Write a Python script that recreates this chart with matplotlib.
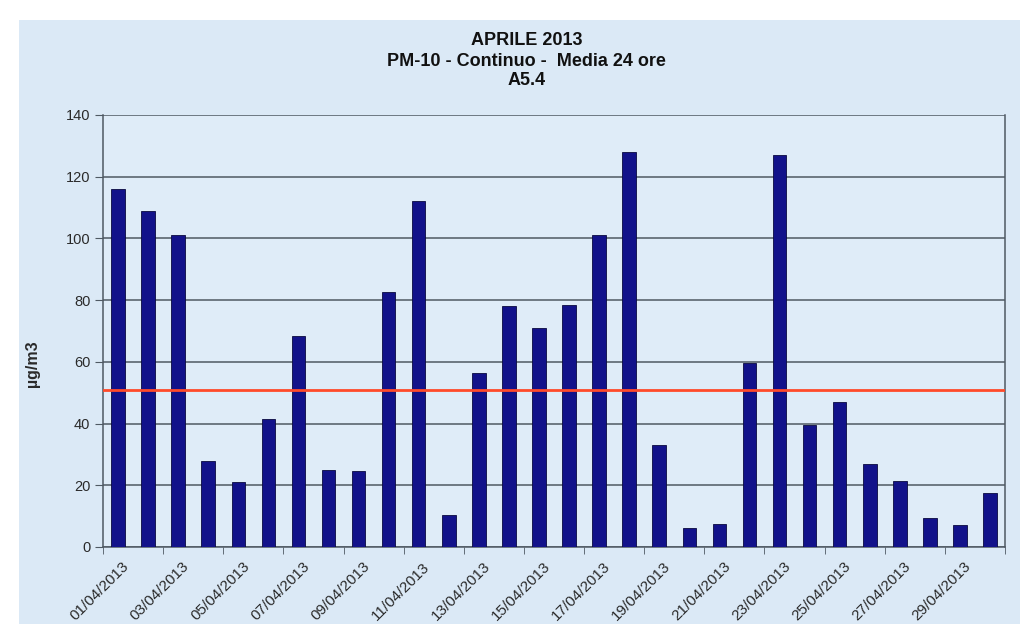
import numpy as np
import matplotlib.pyplot as plt
from matplotlib.patches import Rectangle
from matplotlib.transforms import ScaledTranslation

plt.rcParams['font.family'] = ['Liberation Sans', 'DejaVu Sans']

# PM-10 daily means, April 2013 (ug/m3)
days = [f"{d:02d}/04/2013" for d in range(1, 31)]
pm10 = [116, 109, 101, 28, 21, 41.5, 68.5, 25, 24.5, 82.5,
        112, 10.5, 56.5, 78, 71, 78.5, 101, 128, 33, 6,
        7.5, 59.5, 127, 39.5, 47, 27, 21.5, 9.5, 7, 17.5]
limit = 51
yticks = [0, 20, 40, 60, 80, 100, 120, 140]

panel_bg = '#dbe9f6'
bar_color = '#12128a'
grid_color = '#4f5963'
text_color = '#2a2a2a'

fig = plt.figure(figsize=(10.34, 6.37), dpi=100)
fig.patch.set_facecolor('white')
fig.add_artist(Rectangle((0.0184, 0.0204), 0.968, 0.948,
                         transform=fig.transFigure, facecolor=panel_bg,
                         edgecolor='none', zorder=-10))

ax = fig.add_axes([0.0996, 0.1413, 0.8724, 0.6782])
ax.set_facecolor('#dfecf8')

x = np.arange(len(days))
ax.bar(x, pm10, width=0.45, color=bar_color, edgecolor='#0a0a40',
       linewidth=0.6, zorder=3)
ax.axhline(limit, color='#ff4a2a', linewidth=2, zorder=4)

ax.set_xlim(-0.5, len(days) - 0.5)
ax.set_ylim(0, 140)
ax.set_yticks(yticks)
ax.yaxis.grid(True, color=grid_color, linewidth=1.1)
ax.set_axisbelow(True)

ax.set_xticks(x[::2])
ax.set_xticklabels(days[::2], rotation=45, ha='right', va='top',
                   rotation_mode='anchor')
ax.set_xticks(np.arange(-0.5, len(days), 2), minor=True)
ax.tick_params(axis='x', which='major', length=0, pad=9,
               labelsize=11, labelcolor=text_color)
ax.tick_params(axis='x', which='minor', length=5, color=grid_color)
ax.tick_params(axis='y', length=6, color=grid_color, labelsize=10.5,
               labelcolor=text_color, pad=3)

# nudge the slanted date labels a little to the right
shift = ScaledTranslation(4 / 100, 0, fig.dpi_scale_trans)
for lbl in ax.get_xticklabels():
    lbl.set_transform(lbl.get_transform() + shift)

for side in ('top', 'left', 'bottom', 'right'):
    ax.spines[side].set_color(grid_color)
    ax.spines[side].set_linewidth(1.1)
ax.spines['top'].set_visible(False)

fig.text(0.031, 0.4286, 'µg/m3', rotation=90, ha='center', va='center',
         fontsize=11.5, fontweight='bold', color=text_color)

for y, line in zip([0.937, 0.904, 0.873],
                   ['APRILE 2013', 'PM-10 - Continuo -  Media 24 ore', 'A5.4']):
    fig.text(0.509, y, line, ha='center', va='center', fontsize=13,
             fontweight='bold', color='#111111')

fig.savefig('out.png', dpi=100, facecolor=fig.get_facecolor())
